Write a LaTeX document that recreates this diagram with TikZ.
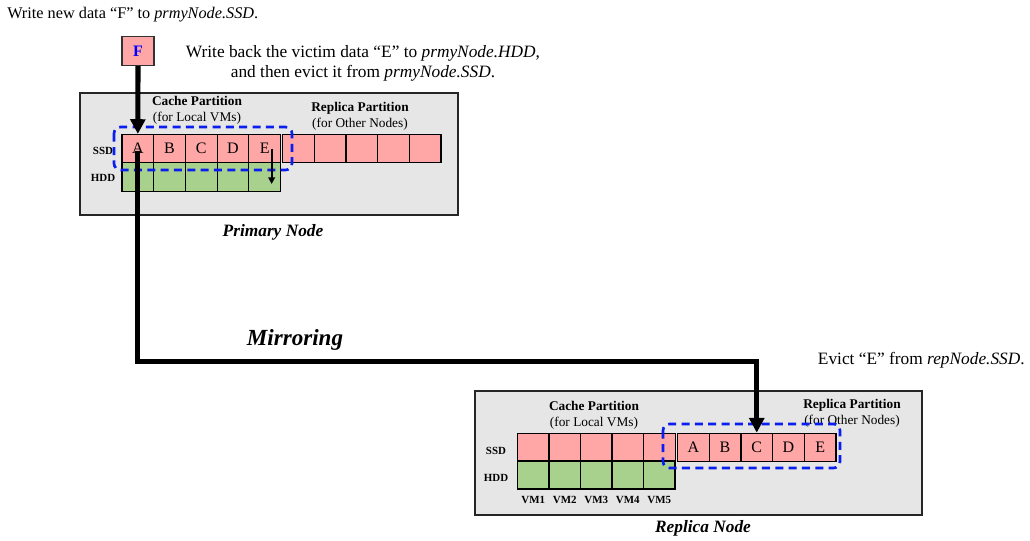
\documentclass[tikz,border=0pt]{standalone}
\usepackage{fontspec}
\setmainfont{Liberation Serif}
\usetikzlibrary{arrows.meta,calc}

\definecolor{ssdpink}{HTML}{FFA6A6}
\definecolor{hddgreen}{HTML}{A9D18E}
\definecolor{nodegray}{HTML}{E6E6E6}
\definecolor{dashblue}{HTML}{0A1EF0}

\tikzset{
  hostbox/.style={draw=black!85, fill=nodegray, line width=1.4pt},
  ssdcell/.style={draw=black, fill=ssdpink, line width=0.9pt, minimum width=31.7*0.75pt, minimum height=28*0.75pt, inner sep=0pt, font=\fontsize{12}{14}\selectfont},
  hddcell/.style={ssdcell, fill=hddgreen, minimum height=29*0.75pt},
  grpbox/.style={draw=dashblue, line width=2pt, dash pattern=on 6pt off 4pt, rounded corners=5pt},
  parttitle/.style={align=center, font=\fontsize{10}{12}\selectfont, inner sep=0pt},
  rowlabel/.style={font=\bfseries\fontsize{8.2}{9}\selectfont, inner sep=0pt},
  hostlabel/.style={font=\bfseries\itshape\fontsize{13}{15}\selectfont, inner sep=0pt},
  note/.style={font=\fontsize{13}{15}\selectfont, inner sep=0pt, align=center},
  flow/.style={line width=3.8pt, -{Triangle[length=11pt,width=11pt]}},
  flowline/.style={line width=3.8pt},
  evictarrow/.style={line width=1.5pt, -{Triangle[length=5pt,width=5pt]}}
}

\begin{document}
\begin{tikzpicture}[x=0.75pt,y=-0.75pt]
\useasboundingbox (0,0) rectangle (1030,540);

% ---------- notes ----------
\node[note, anchor=west, font=\fontsize{12.2}{14}\selectfont] (n1) at (7,15) {Write new data “F” to \textit{prmyNode.SSD}.};
\node[note] (n2) at (363,63) {Write back the victim data “E” to \textit{prmyNode.HDD},\\and then evict it from \textit{prmyNode.SSD}.};
\node[note, anchor=east] (n3) at (1025,360) {Evict “E” from \textit{repNode.SSD}.};

% ---------- primary node ----------
\draw[hostbox] (80,93) rectangle (458,215);
\node[parttitle] (pcache) at (197,110) {\textbf{Cache Partition}\\(for Local VMs)};
\node[parttitle] (prep) at (360,116) {\textbf{Replica Partition}\\(for Other Nodes)};
\node[rowlabel] (pssdl) at (103,151) {SSD};
\node[rowlabel] (phddl) at (103,178) {HDD};

\foreach \l [count=\i from 0] in {A,B,C,D,E} {
  \node[ssdcell] (p\l) at (122+15.85+31.7*\i,148.5) {\l};
  \node[hddcell] (ph\i) at (122+15.85+31.7*\i,177) {};
}
\foreach \i in {0,...,4} {
  \node[ssdcell] (pr\i) at (282.5+15.85+31.7*\i,148.5) {};
}
\draw[grpbox] (114,127) rectangle (292,170);
\node[hostlabel] (primary) at (273,232) {Primary Node};

% ---------- replica node ----------
\draw[hostbox] (475,391) rectangle (922,515);
\node[parttitle] (rcache) at (594,415.5) {\textbf{Cache Partition}\\(for Local VMs)};
\node[parttitle] (rrep) at (852,413.5) {\textbf{Replica Partition}\\(for Other Nodes)};
\node[rowlabel] (rssdl) at (496,451) {SSD};
\node[rowlabel] (rhddl) at (496,478) {HDD};

\foreach \i in {1,...,5} {
  \node[ssdcell] (rc\i) at (517.5+15.75+31.5*\i-31.5,447.25) {};
  \node[hddcell, minimum width=31.5*0.75pt, minimum height=28*0.75pt] (rh\i) at (517.5+15.75+31.5*\i-31.5,475) {};
  \node[rowlabel] (vm\i) at (517.5+15.75+31.5*\i-31.5,500) {VM\i};
}
\foreach \l [count=\i from 0] in {A,B,C,D,E} {
  \node[ssdcell] (r\l) at (677.5+15.85+31.7*\i,447.25) {\l};
}
\draw[grpbox] (663,424) rectangle (840,468);
\node[hostlabel] (replica) at (703,528) {Replica Node};

% ---------- new block F ----------
\node[draw=black!80, fill=ssdpink, line width=1pt, minimum width=32*0.75pt, minimum height=28.5*0.75pt, inner sep=0pt,
      text=blue, font=\bfseries\fontsize{12}{14}\selectfont] (F) at (138,51) {F};

% ---------- connectors ----------
\draw[flow] (F.south) -- (pA.north);

\coordinate (start) at ($(pA.center)+(0,2)$);
\coordinate (bendL) at (pA.center |- 0,361.5);
\coordinate (bendR) at (rC.center |- 0,361.5);
\draw[flowline] (start) -- (bendL) -- (bendR);
\draw[flow] ($(bendR)+(0,-2.2)$) -- (rC.north);

\node[font=\bfseries\itshape\fontsize{17.3}{20}\selectfont, inner sep=0pt] (mirror) at (295,340) {Mirroring};

\coordinate (evtop) at ($(pE.center)+(7,0)$);
\coordinate (evbot) at ($(ph4.center)+(7,7)$);
\draw[evictarrow] (evtop) -- (evbot);

\end{tikzpicture}
\end{document}
